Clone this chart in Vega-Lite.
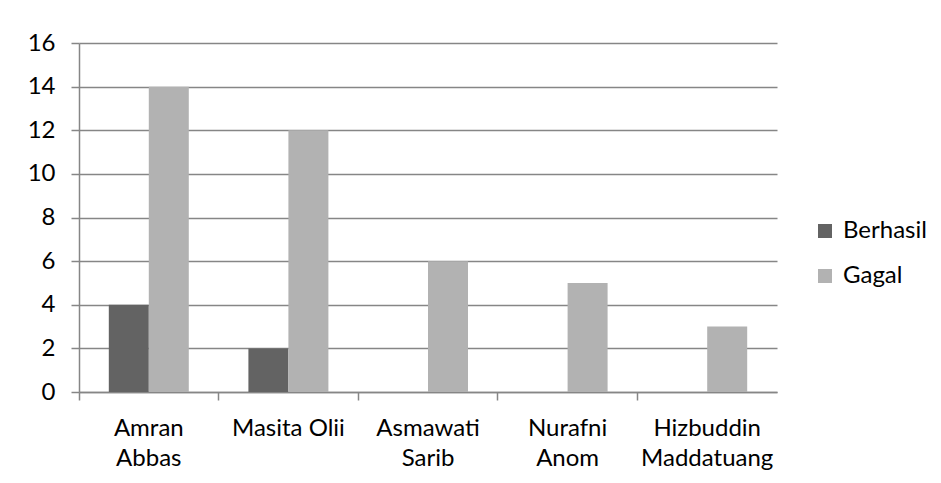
{
  "$schema": "https://vega.github.io/schema/vega-lite/v6.json",
  "width": 698,
  "height": 349,
  "autosize": {"type": "none"},
  "padding": {"left": 79, "top": 43, "right": 164, "bottom": 91},
  "background": "white",
  "data": {
    "values": [
      {"nama": "Amran|Abbas", "status": "Berhasil", "jumlah": 4},
      {"nama": "Amran|Abbas", "status": "Gagal", "jumlah": 14},
      {"nama": "Masita Olii", "status": "Berhasil", "jumlah": 2},
      {"nama": "Masita Olii", "status": "Gagal", "jumlah": 12},
      {"nama": "Asmawati|Sarib", "status": "Berhasil", "jumlah": 0},
      {"nama": "Asmawati|Sarib", "status": "Gagal", "jumlah": 6},
      {"nama": "Nurafni|Anom", "status": "Berhasil", "jumlah": 0},
      {"nama": "Nurafni|Anom", "status": "Gagal", "jumlah": 5},
      {"nama": "Hizbuddin|Maddatuang", "status": "Berhasil", "jumlah": 0},
      {"nama": "Hizbuddin|Maddatuang", "status": "Gagal", "jumlah": 3}
    ]
  },
  "mark": {"type": "bar"},
  "encoding": {
    "x": {
      "field": "nama",
      "type": "nominal",
      "sort": null,
      "scale": {"paddingInner": 0.427, "paddingOuter": 0.2135},
      "axis": {
        "title": null,
        "labelAngle": 0,
        "labelExpr": "split(datum.label, '|')",
        "labelLineHeight": 30,
        "labelFontSize": 24,
        "labelFont": "Lato",
        "labelColor": "black",
        "labelPadding": 16,
        "labelBaseline": "top",
        "bandPosition": -0.3725,
        "tickSize": 8,
        "tickColor": "#868686",
        "domainColor": "#868686",
        "domainWidth": 1.5,
        "tickWidth": 1.5,
        "grid": false
      }
    },
    "xOffset": {"field": "status", "type": "nominal", "scale": {"paddingInner": 0, "paddingOuter": 0}},
    "y": {
      "field": "jumlah",
      "type": "quantitative",
      "scale": {"domain": [0, 16], "nice": false},
      "axis": {
        "title": null,
        "values": [0, 2, 4, 6, 8, 10, 12, 14, 16],
        "labelFontSize": 24,
        "labelFont": "Lato",
        "labelColor": "black",
        "labelPadding": 16,
        "tickSize": 8,
        "tickColor": "#868686",
        "tickWidth": 1.5,
        "domainColor": "#868686",
        "domainWidth": 1.5,
        "grid": true,
        "gridColor": "#868686",
        "gridWidth": 1.5
      }
    },
    "color": {
      "field": "status",
      "type": "nominal",
      "scale": {"domain": ["Berhasil", "Gagal"], "range": ["#636363", "#b2b2b2"]},
      "legend": {
        "title": null,
        "orient": "none",
        "legendX": 734,
        "legendY": 176,
        "symbolType": "square",
        "symbolSize": 196,
        "symbolStrokeWidth": 0,
        "symbolOpacity": 1,
        "labelFontSize": 24,
        "labelFont": "Lato",
        "labelColor": "black",
        "labelOffset": 6,
        "rowPadding": 21
      }
    }
  },
  "config": {
    "view": {"stroke": null}
  }
}
